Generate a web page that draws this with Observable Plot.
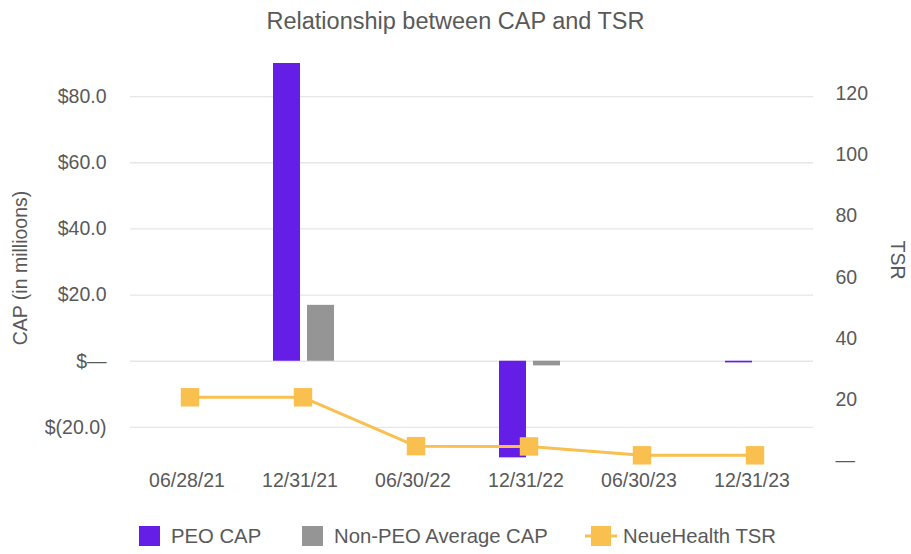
<!DOCTYPE html>
<html>
<head>
<meta charset="utf-8">
<script src="https://cdn.jsdelivr.net/npm/d3@7"></script>
<script src="https://cdn.jsdelivr.net/npm/@observablehq/plot@0.6"></script>
<style>
  html, body { margin: 0; padding: 0; background: #fff; }
  body { width: 911px; height: 554px; overflow: hidden; position: relative; font-family: "Liberation Sans", Arial, sans-serif; color: #595959; }
  #title { height: 45px; line-height: 42px; text-align: center; font-size: 23.5px; }
  #chart svg { display: block; }
  #legend { position: absolute; top: 516px; left: 0; width: 911px; height: 38px; font-size: 20.3px; }
  .item { position: absolute; top: 0; height: 40px; display: flex; align-items: center; }
</style>
</head>
<body>
<div id="title">Relationship between CAP and TSR</div>
<div id="chart"></div>
<div id="legend"></div>
<script>
const categories = ["06/28/21", "12/31/21", "06/30/22", "12/31/22", "06/30/23", "12/31/23"];
const peoCap = [null, 90.0, null, -29.2, null, -0.5];
const nonPeoCap = [null, 16.9, null, -1.4, null, 0];
const tsr = [20.7, 20.7, 4.7, 4.6, 1.7, 1.7];
const capTicks = [-20, 0, 20, 40, 60, 80];
const tsrTicks = [0, 20, 40, 60, 80, 100, 120];
const capDomain = [-30, 90];
const tsrDomain = [0, 130];

const colors = { peo: "#651EE5", nonPeo: "#959595", tsr: "#F9BF4F" };

const toCap = t => capDomain[0] + (t - tsrDomain[0]) * (capDomain[1] - capDomain[0]) / (tsrDomain[1] - tsrDomain[0]);
const toTsr = c => tsrDomain[0] + (c - capDomain[0]) * (tsrDomain[1] - tsrDomain[0]) / (capDomain[1] - capDomain[0]);

const peoData = categories.map((c, i) => ({ cat: c, v: peoCap[i] })).filter(d => d.v != null);
const nonData = categories.map((c, i) => ({ cat: c, v: nonPeoCap[i] })).filter(d => d.v != null);
const tsrData = categories.map((c, i) => ({ cat: c, t: tsr[i], y: toCap(tsr[i]) }));

const capFmt = d => d === 0 ? "$\u2014" : d < 0 ? `$(${(-d).toFixed(1)})` : `$${d.toFixed(1)}`;

const chart = Plot.plot({
  width: 911,
  height: 465,
  marginLeft: 130,
  marginRight: 98,
  marginTop: 18,
  marginBottom: 50,
  style: { fontFamily: "Liberation Sans, Arial, sans-serif", fontSize: "19.5px", color: "#595959", background: "transparent" },
  x: { type: "band", domain: categories, padding: 0, label: null },
  y: { domain: capDomain, label: null },
  marks: [
    Plot.gridY(capTicks, { stroke: "#e6e6e6", strokeOpacity: 1, strokeWidth: 1.3 }),
    Plot.barY(peoData, { x: "cat", y: "v", fill: colors.peo, insetLeft: 27, insetRight: 59 }),
    Plot.barY(nonData, { x: "cat", y: "v", fill: colors.nonPeo, insetLeft: 61, insetRight: 25 }),
    Plot.line(tsrData, { x: "cat", y: "y", stroke: colors.tsr, strokeWidth: 3 }),
    Plot.dot(tsrData, { x: "cat", y: "y", symbol: "square", r: 10.4, fill: colors.tsr, stroke: "none" }),
    Plot.axisX({ tickSize: 0, tickPadding: 13, dx: -3, label: null }),
    Plot.axisY({ anchor: "left", ticks: capTicks, tickFormat: capFmt, tickSize: 0, tickPadding: 24, label: null }),
    Plot.axisY({ anchor: "right", ticks: tsrTicks.map(toCap), tickFormat: d => { const t = Math.round(toTsr(d)); return t === 0 ? "\u2014" : String(t); }, tickSize: 0, tickPadding: 22, label: null }),
    Plot.text(["CAP (in millioons)"], { frameAnchor: "left", textAnchor: "middle", dx: -110, dy: 6, rotate: -90, fill: "#595959" }),
    Plot.text(["TSR"], { frameAnchor: "right", textAnchor: "middle", dx: 84, dy: -2, rotate: 90, fill: "#595959" })
  ]
});
document.getElementById("chart").appendChild(chart);

// legend
const legend = d3.select("#legend");
const items = [
  { label: "PEO CAP", left: 139, kind: "rect", color: colors.peo },
  { label: "Non-PEO Average CAP", left: 302, kind: "rect", color: colors.nonPeo },
  { label: "NeueHealth TSR", left: 585, kind: "line", color: colors.tsr }
];
items.forEach(it => {
  const div = legend.append("div").attr("class", "item").style("left", it.left + "px");
  if (it.kind === "rect") {
    const s = div.append("svg").attr("width", 21).attr("height", 20);
    s.append("rect").attr("width", 21).attr("height", 20).attr("fill", it.color);
    s.style("margin-right", "11px");
  } else {
    const s = div.append("svg").attr("width", 32).attr("height", 20);
    s.append("line").attr("x1", 0).attr("x2", 32).attr("y1", 10).attr("y2", 10).attr("stroke", it.color).attr("stroke-width", 3);
    s.append("rect").attr("x", 6).attr("y", 0).attr("width", 20).attr("height", 20).attr("fill", it.color);
    s.style("margin-right", "6px");
  }
  div.append("span").text(it.label);
});
</script>
</body>
</html>
